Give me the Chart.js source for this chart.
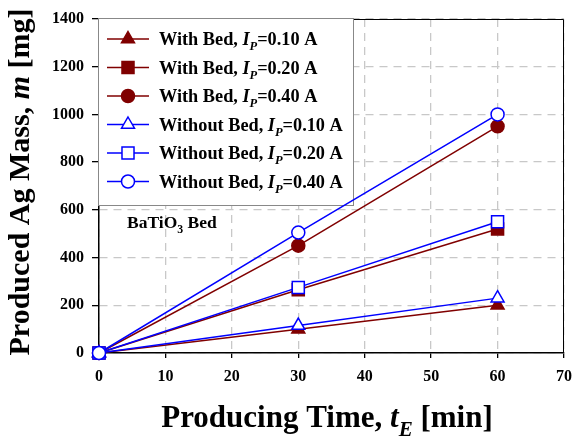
<!DOCTYPE html>
<html>
<head>
<meta charset="utf-8">
<script src="https://cdn.jsdelivr.net/npm/chart.js@4.4.1/dist/chart.umd.min.js"></script>
<style>
html, body { margin: 0; padding: 0; background: #fff; }
#wrap { width: 574px; height: 439px; }
</style>
</head>
<body>
<div id="wrap"><canvas id="c"></canvas></div>
<script>
const times = [0, 30, 60];
const withBed010 = [0, 100, 200];
const withBed020 = [0, 265, 520];
const withBed040 = [0, 450, 950];
const noBed010 = [0, 115, 230];
const noBed020 = [0, 275, 550];
const noBed040 = [0, 505, 1000];
const currents = ["0.10", "0.20", "0.40"];

const RED = "#800000";
const BLUE = "#0000ff";
const SERIF = "'Liberation Serif', 'Times New Roman', serif";

function pts(vals) {
    return times.map((t, i) => ({ x: t, y: vals[i] }));
}

// name, values, color, marker, radius, filled, current index
const series = [
    ["With Bed", withBed010, RED, "triangle", 7.5, true, 0],
    ["With Bed", withBed020, RED, "rect", 8.5, true, 1],
    ["With Bed", withBed040, RED, "circle", 6.5, true, 2],
    ["Without Bed", noBed010, BLUE, "triangle", 7.5, false, 0],
    ["Without Bed", noBed020, BLUE, "rect", 8.5, false, 1],
    ["Without Bed", noBed040, BLUE, "circle", 6.5, false, 2]
];

const datasets = series.map((s, i) => ({
    label: s[0] + ", Ip=" + currents[s[6]] + " A",
    data: pts(s[1]),
    borderColor: s[2],
    borderWidth: 1.5,
    pointStyle: s[3],
    pointRadius: s[4],
    pointHoverRadius: s[4],
    pointBackgroundColor: s[5] ? s[2] : "#fff",
    pointBorderColor: s[2],
    pointBorderWidth: 1.5,
    clip: false,
    order: 6 - i
}));

// draw runs of text, some italic or subscript
function richText(ctx, parts, x, y, size, align) {
    const fontOf = p => (p.it ? "italic " : "") + "bold " + (p.sub ? size * 0.68 : size) + "px " + SERIF;
    let total = 0;
    parts.forEach(p => { ctx.font = fontOf(p); total += ctx.measureText(p.t).width; });
    let cx = align === "center" ? x - total / 2 : x;
    ctx.textAlign = "left";
    ctx.textBaseline = "alphabetic";
    parts.forEach(p => {
        ctx.font = fontOf(p);
        ctx.fillText(p.t, cx, y + (p.sub ? size * 0.3 : 0));
        cx += ctx.measureText(p.t).width;
    });
}

function marker(ctx, style, r, x, y, color, filled) {
    ctx.beginPath();
    if (style === "circle") {
        ctx.arc(x, y, r, 0, Math.PI * 2);
    } else if (style === "rect") {
        const h = r * Math.SQRT1_2;
        ctx.rect(x - h, y - h, 2 * h, 2 * h);
    } else {
        ctx.moveTo(x, y - r);
        ctx.lineTo(x + 0.866 * r, y + 0.5 * r);
        ctx.lineTo(x - 0.866 * r, y + 0.5 * r);
        ctx.closePath();
    }
    ctx.fillStyle = filled ? color : "#fff";
    ctx.fill();
    ctx.lineWidth = 1.5;
    ctx.strokeStyle = color;
    ctx.stroke();
}

const decorations = {
    id: "decorations",
    beforeDatasetsDraw(chart) {
        const ctx = chart.ctx;
        const ca = chart.chartArea;
        ctx.save();
        // frame top and right
        ctx.strokeStyle = "#000";
        ctx.lineWidth = 1;
        ctx.beginPath();
        ctx.moveTo(ca.left, ca.top + 0.5);
        ctx.lineTo(ca.right - 0.5, ca.top + 0.5);
        ctx.lineTo(ca.right - 0.5, ca.bottom);
        ctx.stroke();

        // legend box
        const lx = ca.left - 1, ly = ca.top - 0.5, lw = 255, lh = 187;
        ctx.fillStyle = "#fff";
        ctx.fillRect(lx, ly, lw, lh);
        ctx.strokeStyle = "#888";
        ctx.lineWidth = 1;
        ctx.strokeRect(lx + 0.5, ly, lw, lh);

        series.forEach((s, i) => {
            const y = ly + 20.5 + i * 28.5;
            ctx.strokeStyle = s[2];
            ctx.lineWidth = 1.5;
            ctx.beginPath();
            ctx.moveTo(lx + 9, y);
            ctx.lineTo(lx + 51, y);
            ctx.stroke();
            marker(ctx, s[3], s[4], lx + 30, y, s[2], s[5]);
            ctx.fillStyle = "#000";
            richText(ctx, [
                { t: s[0] + ", " },
                { t: "I", it: true },
                { t: "P", it: true, sub: true },
                { t: "=" + currents[s[6]] + " A" }
            ], lx + 61, y + 6, 18.3, "left");
        });

        // annotation
        ctx.fillStyle = "#000";
        richText(ctx, [{ t: "BaTiO" }, { t: "3", sub: true }, { t: " Bed" }], ca.left + 28, ca.top + 209, 17.5, "left");
        ctx.restore();
    },
    afterDraw(chart) {
        const ctx = chart.ctx;
        ctx.save();
        ctx.fillStyle = "#000";
        richText(ctx, [
            { t: "Producing Time, " },
            { t: "t", it: true },
            { t: "E", it: true, sub: true },
            { t: " [min]" }
        ], 327, 427, 31, "center");
        ctx.translate(29, 182);
        ctx.rotate(-Math.PI / 2);
        richText(ctx, [
            { t: "Produced Ag Mass, " },
            { t: "m", it: true },
            { t: " [mg]" }
        ], 0, 0, 30, "center");
        ctx.restore();
    }
};

const tickFont = { family: SERIF, size: 16, weight: "bold" };

new Chart(document.getElementById("c"), {
    type: "line",
    data: { datasets: datasets },
    options: {
        responsive: true,
        maintainAspectRatio: false,
        animation: false,
        layout: { padding: { top: 19, right: 10, left: 0, bottom: 0 } },
        plugins: { legend: { display: false }, tooltip: { enabled: false } },
        scales: {
            x: {
                type: "linear",
                min: 0,
                max: 70,
                ticks: { stepSize: 10, font: tickFont, color: "#000", padding: 9, maxRotation: 0 },
                grid: { color: "#c8c8c8", lineWidth: 1.3, tickLength: 5, tickColor: "#000", tickWidth: 1.3, tickBorderDash: [] },
                border: { color: "#000", width: 1.5, dash: [8, 6] },
                afterFit(scale) {
                    scale.height = 86;
                    scale.paddingRight = 0;
                    scale.paddingLeft = 0;
                }
            },
            y: {
                min: 0,
                max: 1400,
                ticks: { stepSize: 200, font: tickFont, color: "#000", padding: 8, callback: v => String(v) },
                grid: { color: "#c8c8c8", lineWidth: 1.3, tickLength: 7, tickColor: "#000", tickWidth: 1.3, tickBorderDash: [] },
                border: { color: "#000", width: 1.5, dash: [8, 6] },
                afterFit(scale) {
                    scale.width = 99;
                    scale.paddingTop = 0;
                    scale.paddingBottom = 0;
                }
            }
        }
    },
    plugins: [decorations]
});
</script>
</body>
</html>
